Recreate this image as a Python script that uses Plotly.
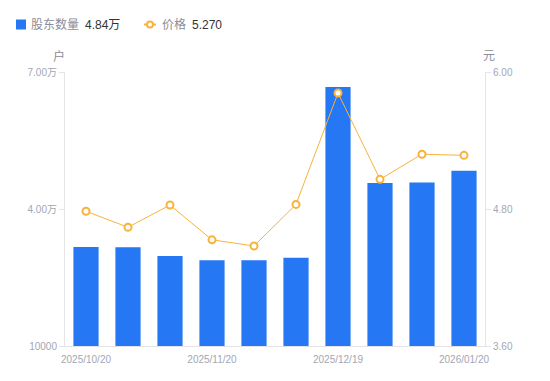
import plotly.graph_objects as go

dates = ["2025/10/20", "2025/10/31", "2025/11/10", "2025/11/20", "2025/11/28",
         "2025/12/10", "2025/12/19", "2025/12/31", "2026/01/09", "2026/01/20"]
holders = [31700, 31600, 29700, 28800, 28800, 29300, 66700, 45700, 45800, 48400]
prices = [4.78, 4.64, 4.835, 4.53, 4.476, 4.84, 5.816, 5.06, 5.28, 5.27]
x_ticks = ["2025/10/20", "2025/11/20", "2025/12/19", "2026/01/20"]
left_vals = [10000, 40000, 70000]
left_text = ["10000", "4.00万", "7.00万"]
right_vals = [3.6, 4.8, 6.0]
right_text = ["3.60", "4.80", "6.00"]

FONT = "Liberation Sans, Arial, Noto Sans CJK SC, sans-serif"
TICK = "#a3a6b4"
BLUE = "#2677f3"
ORANGE = "#f9b33a"
AXIS = "#e3e3e8"

# plot area in page pixels (body margin removed below)
PL, PR, PT, PB = 65, 485, 72, 346
W, H = 550, 381
def px(x):
    return (x - PL) / (PR - PL)
def py(y):
    return (PB - y) / (PB - PT)

fig = go.Figure()
fig.add_trace(go.Bar(
    x=dates, y=holders, name="股东数量",
    marker=dict(color=BLUE, line=dict(width=0)), yaxis="y"))
fig.add_trace(go.Scatter(
    x=dates, y=prices, name="价格",
    mode="lines+markers", yaxis="y2",
    line=dict(color=ORANGE, width=1),
    marker=dict(symbol="circle", size=7, color="white", line=dict(color=ORANGE, width=2))))

fig.update_layout(
    width=W, height=H,
    margin=dict(l=PL, r=W - PR, t=PT, b=H - PB, autoexpand=False),
    paper_bgcolor="white", plot_bgcolor="white",
    font=dict(family=FONT, color=TICK, size=10),
    bargap=0.4,
    showlegend=False,
    hovermode=False,
    xaxis=dict(type="category", tickvals=x_ticks, ticktext=x_ticks,
               range=[-0.5, len(dates) - 0.5],
               showline=True, linecolor=AXIS, linewidth=1, ticks="",
               showgrid=False, automargin=False, ticklabelstandoff=4,
               tickfont=dict(size=10, color=TICK)),
    yaxis=dict(range=[10000, 70000], tickvals=left_vals, ticktext=left_text,
               showline=True, linecolor=AXIS, ticks="outside", ticklen=5,
               tickcolor=AXIS, showgrid=False, zeroline=False, automargin=False,
               tickfont=dict(size=10, color=TICK)),
    yaxis2=dict(range=[3.6, 6.0], tickvals=right_vals, ticktext=right_text,
                overlaying="y", side="right",
                showline=True, linecolor=AXIS, ticks="outside", ticklen=5,
                tickcolor=AXIS, showgrid=False, zeroline=False, automargin=False,
                tickfont=dict(size=10, color=TICK)),
)

shapes = [
    dict(type="rect", xref="paper", yref="paper",
         x0=px(16), x1=px(26), y0=py(19.5), y1=py(29.5),
         fillcolor=BLUE, line=dict(width=0)),
    dict(type="line", xref="paper", yref="paper",
         x0=px(144), x1=px(156), y0=py(24.5), y1=py(24.5),
         line=dict(color=ORANGE, width=2)),
    dict(type="circle", xref="paper", yref="paper",
         x0=px(147), x1=px(153), y0=py(21.5), y1=py(27.5),
         fillcolor="white", line=dict(color=ORANGE, width=2)),
]
fig.update_layout(shapes=shapes)

def ann(text, x, y, size, color, anchor="left"):
    return dict(text=text, x=px(x), y=py(y), xref="paper", yref="paper",
                showarrow=False, xanchor=anchor, yanchor="middle",
                font=dict(size=size, color=color, family=FONT), borderpad=0)

fig.update_layout(annotations=[
    ann("股东数量", 30, 24.5, 12, "#8a8d99"),
    ann("4.84万", 84, 24.5, 12, "#333333"),
    ann("价格", 161, 24.5, 12, "#8a8d99"),
    ann("5.270", 191, 24.5, 12, "#333333"),
    ann("户", 59, 56.5, 12, "#8a8d99", "center"),
    ann("元", 489, 56.5, 12, "#8a8d99", "center"),
])

fig.write_html("out.html", config={"displayModeBar": False},
               post_script="document.body.style.margin='0';document.body.style.overflow='hidden';")
